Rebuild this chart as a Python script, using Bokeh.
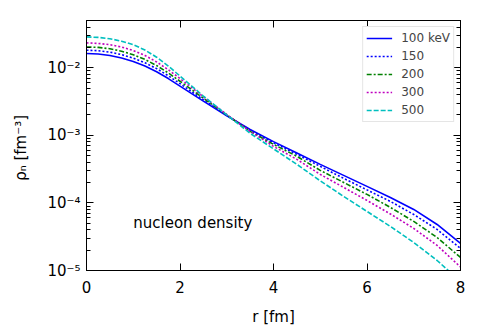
from bokeh.plotting import figure
from bokeh.models import (Range1d, FixedTicker, LinearAxis, LogAxis, Label,
                          CustomJSTickFormatter)
from bokeh.embed import file_html
from bokeh.resources import INLINE

# ---- data ----
r = [0.0, 0.25, 0.5, 0.75, 1.0, 1.25, 1.5, 1.75, 2.0, 2.25, 2.5,
     3.0, 3.5, 4.0, 4.5, 5.0, 5.5, 6.0, 6.5, 7.0, 7.5, 8.0]

rho_100 = [0.01623, 0.01596, 0.01521, 0.01392, 0.01236, 0.01060, 8.727e-3, 6.918e-3,
           5.356e-3, 4.147e-3, 3.211e-3, 1.945e-3, 1.219e-3, 8.065e-4, 5.467e-4,
           3.718e-4, 2.556e-4, 1.756e-4, 1.206e-4, 8.01e-5, 4.80e-5, 2.51e-5]
rho_150 = [0.01816, 0.01786, 0.01703, 0.01563, 0.01387, 0.01186, 9.698e-3, 7.614e-3,
           5.813e-3, 4.424e-3, 3.368e-3, 1.972e-3, 1.186e-3, 7.74e-4, 5.23e-4,
           3.47e-4, 2.31e-4, 1.558e-4, 1.052e-4, 6.75e-5, 4.05e-5, 2.12e-5]
rho_200 = [0.02032, 0.01999, 0.01912, 0.01756, 0.01558, 0.01327, 0.01078, 8.377e-3,
           6.310e-3, 4.738e-3, 3.544e-3, 2.005e-3, 1.146e-3, 7.36e-4, 4.89e-4,
           3.03e-4, 2.01e-4, 1.336e-4, 8.58e-5, 5.32e-5, 3.08e-5, 1.558e-5]
rho_300 = [0.02331, 0.02291, 0.02192, 0.02026, 0.01798, 0.01521, 0.01219, 9.341e-3,
           6.918e-3, 5.089e-3, 3.718e-3, 2.033e-3, 1.146e-3, 6.87e-4, 4.41e-4,
           2.64e-4, 1.697e-4, 1.089e-4, 6.87e-5, 4.19e-5, 2.35e-5, 1.127e-5]
rho_500 = [0.02859, 0.02811, 0.02689, 0.02470, 0.02192, 0.01829, 0.01431, 0.01060,
           7.536e-3, 5.356e-3, 3.808e-3, 2.012e-3, 1.071e-3, 6.31e-4, 3.72e-4,
           2.12e-4, 1.248e-4, 7.48e-5, 4.49e-5, 2.60e-5, 1.406e-5, 6.87e-6]

series_labels = ["100 keV", "150", "200", "300", "500"]
x_ticks = [0, 2, 4, 6, 8]
y_ticks = [1e-5, 1e-4, 1e-3, 1e-2]
annotation_text = "nucleon density"
annotation_x = 1.0
annotation_y = 5e-5

FONT = "DejaVu Sans"

p = figure(width=477, height=328, y_axis_type="log",
           x_range=Range1d(0, 8), y_range=Range1d(1e-5, 5e-2),
           output_backend="svg", toolbar_location=None,
           min_border_left=86, min_border_right=17,
           min_border_top=20, min_border_bottom=58)
p.background_fill_color = "white"
p.border_fill_color = "white"
p.outline_line_color = "black"
p.outline_line_width = 1
p.xgrid.visible = False
p.ygrid.visible = False

styles = [
    dict(color="#0000ff", line_dash="solid"),
    dict(color="#0000ff", line_dash="2 2"),
    dict(color="#008000", line_dash="5 2 2 2"),
    dict(color="#bf00bf", line_dash="2 2"),
    dict(color="#00bfbf", line_dash="5 2"),
]
for ys, lab, st in zip([rho_100, rho_150, rho_200, rho_300, rho_500], series_labels, styles):
    p.line(r, ys, line_color=st["color"], line_dash=st["line_dash"], line_width=1.6,
           legend_label=lab)

# minor ticks on log axis
minor = []
for d in y_ticks + [1e-1]:
    for m in range(2, 10):
        v = d * m
        if v <= 5e-2:
            minor.append(v)

fmt = CustomJSTickFormatter(code="""
const sup = {'-':'\u207b','0':'\u2070','1':'\u00b9','2':'\u00b2','3':'\u00b3','4':'\u2074',
             '5':'\u2075','6':'\u2076','7':'\u2077','8':'\u2078','9':'\u2079'};
const e = Math.round(Math.log10(tick));
return '10' + String(e).split('').map(c => sup[c]).join('');
""")
blank = CustomJSTickFormatter(code="return ' ';")

def style_axis(ax):
    ax.axis_line_color = "black"
    ax.major_tick_in = 7
    ax.major_tick_out = 0
    ax.minor_tick_in = 4
    ax.minor_tick_out = 0
    ax.major_tick_line_color = "black"
    ax.minor_tick_line_color = "black"
    ax.major_label_text_font = FONT
    ax.major_label_text_font_size = "15px"
    ax.major_label_text_color = "black"
    ax.axis_label_text_font = FONT
    ax.axis_label_text_font_size = "15px"
    ax.axis_label_text_font_style = "normal"
    ax.axis_label_text_color = "black"

xa = p.xaxis[0]
xa.ticker = FixedTicker(ticks=x_ticks)
xa.axis_label = "r [fm]"
style_axis(xa)
xa.major_label_standoff = 10
xa.axis_label_standoff = 12

ya = p.yaxis[0]
ya.ticker = FixedTicker(ticks=y_ticks, minor_ticks=minor)
ya.formatter = fmt
ya.axis_label = "ρₙ  [fm⁻³]"
style_axis(ya)
ya.major_label_standoff = 6
ya.axis_label_standoff = 14

top = LinearAxis(ticker=FixedTicker(ticks=x_ticks), formatter=blank)
style_axis(top)
top.major_label_text_font_size = "2px"
top.major_label_standoff = 0
p.add_layout(top, "above")

right = LogAxis(ticker=FixedTicker(ticks=y_ticks, minor_ticks=minor), formatter=blank)
style_axis(right)
right.major_label_text_font_size = "2px"
right.major_label_standoff = 0
p.add_layout(right, "right")

p.add_layout(Label(x=annotation_x, y=annotation_y, text=annotation_text,
                   text_font=FONT, text_font_size="15px", text_color="black",
                   text_baseline="alphabetic"))

lg = p.legend[0]
lg.location = "top_right"
lg.margin = 6
lg.padding = 3
lg.spacing = 2
lg.glyph_width = 26
lg.glyph_height = 16
lg.label_height = 16
lg.label_standoff = 9
lg.label_text_font = FONT
lg.label_text_font_size = "12px"
lg.border_line_color = "#cccccc"
lg.border_line_width = 1
lg.background_fill_alpha = 1.0

open("out.html", "w").write(file_html(p, INLINE))
